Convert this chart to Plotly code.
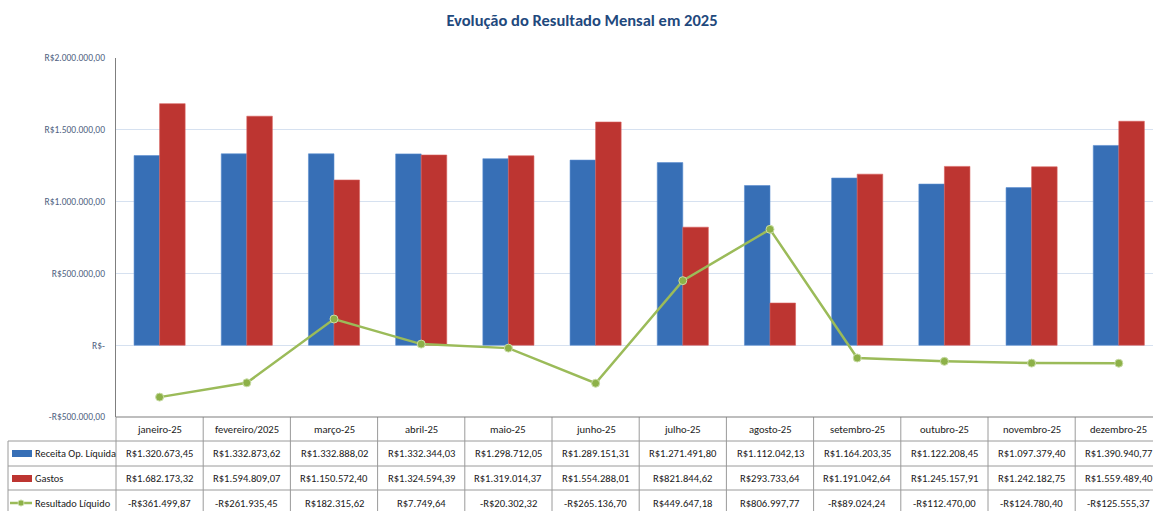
import plotly.graph_objects as go

months = ["janeiro-25", "fevereiro/2025", "março-25", "abril-25", "maio-25", "junho-25",
          "julho-25", "agosto-25", "setembro-25", "outubro-25", "novembro-25", "dezembro-25"]
receita = [1320673.45, 1332873.62, 1332888.02, 1332344.03, 1298712.05, 1289151.31,
           1271491.80, 1112042.13, 1164203.35, 1122208.45, 1097379.40, 1390940.77]
gastos = [1682173.32, 1594809.07, 1150572.40, 1324594.39, 1319014.37, 1554288.01,
          821844.62, 293733.64, 1191042.64, 1245157.91, 1242182.75, 1559489.40]
resultado = [-361499.87, -261935.45, 182315.62, 7749.64, -20302.32, -265136.70,
             449647.18, 806997.77, -89024.24, -112470.00, -124780.40, -125555.37]
series_names = ["Receita Op. Líquida", "Gastos", "Resultado Líquido"]
ytick_vals = [-500000, 0, 500000, 1000000, 1500000, 2000000]
ytick_text = ["-R$500.000,00", "R$-", "R$500.000,00", "R$1.000.000,00", "R$1.500.000,00", "R$2.000.000,00"]


def brl(v):
    s = f"{abs(v):,.2f}".replace(",", "X").replace(".", ",").replace("X", ".")
    return ("-R$" if v < 0 else "R$") + s


W, H = 1153, 511
ML, MR, MT, MB = 116, 0, 58, 94
PW = W - ML - MR
PH = H - MT - MB
CAT_W = 87.2
XMIN = -0.5
XMAX = XMIN + PW / CAT_W

FONT = "Carlito, 'Liberation Sans Narrow', Lato, sans-serif"
BLUE = "#376FB6"
RED = "#BD3531"
GREEN = "#9BBB59"
GRID = "#D6E1F0"
TBL = "#9A9A9A"
TXT = "#1a1a1a"
TSIZE = 10.6


def px_y(py):
    return (H - MB - py) / PH


def px_x(px):
    return (px - ML) / PW


def cat_x(v):
    return (v - XMIN) / (XMAX - XMIN)


x = list(range(len(months)))

fig = go.Figure()
fig.add_trace(go.Bar(x=x, y=receita, name=series_names[0], marker=dict(color=BLUE, line=dict(color="#5B8DD0", width=0.6))))
fig.add_trace(go.Bar(x=x, y=gastos, name=series_names[1], marker=dict(color=RED, line=dict(color="#D8605C", width=0.6))))
fig.add_trace(go.Scatter(x=x, y=resultado, name=series_names[2], mode="lines+markers",
                         line=dict(color=GREEN, width=2.5),
                         marker=dict(size=8, color="#8DB148", line=dict(color="#C9DCA6", width=1))))

shapes = []
annotations = []

row_top = [417, 441, 466, 490]
row_center = [429, 453.5, 478, 503]
bottom = 520

for ry in row_top[1:]:
    shapes.append(dict(type="line", xref="paper", yref="paper", x0=px_x(8), x1=1.02, y0=px_y(ry), y1=px_y(ry),
                       line=dict(color=TBL, width=1)))
for i in range(len(months)):
    xv = cat_x(i + 0.5)
    if xv <= 1:
        shapes.append(dict(type="line", xref="paper", yref="paper", x0=xv, x1=xv, y0=px_y(417), y1=px_y(bottom),
                           line=dict(color=TBL, width=1)))
shapes.append(dict(type="line", xref="paper", yref="paper", x0=0, x1=0, y0=px_y(417), y1=px_y(bottom),
                   line=dict(color=TBL, width=1)))
shapes.append(dict(type="line", xref="paper", yref="paper", x0=px_x(8), x1=px_x(8), y0=px_y(441), y1=px_y(bottom),
                   line=dict(color=TBL, width=1)))
shapes.append(dict(type="line", xref="paper", yref="paper", x0=0, x1=1, y0=0, y1=0, line=dict(color="#7F7F7F", width=1.2)))

shapes.append(dict(type="rect", xref="paper", yref="paper", x0=px_x(12), x1=px_x(32), y0=px_y(457), y1=px_y(450),
                   fillcolor=BLUE, line=dict(width=0)))
shapes.append(dict(type="rect", xref="paper", yref="paper", x0=px_x(12), x1=px_x(32), y0=px_y(482), y1=px_y(475),
                   fillcolor=RED, line=dict(width=0)))
shapes.append(dict(type="line", xref="paper", yref="paper", x0=px_x(10), x1=px_x(32), y0=px_y(503), y1=px_y(503),
                   line=dict(color=GREEN, width=2.5)))
shapes.append(dict(type="circle", xref="paper", yref="paper", x0=px_x(18), x1=px_x(24), y0=px_y(506), y1=px_y(500),
                   fillcolor="#8DB148", line=dict(color="#C9DCA6", width=1)))

for k, nm in enumerate(series_names):
    annotations.append(dict(text=nm, xref="paper", yref="paper", x=px_x(33), y=px_y(row_center[k + 1]),
                            xanchor="left", yanchor="middle", showarrow=False,
                            font=dict(family=FONT, size=10.4, color=TXT)))

for i, m in enumerate(months):
    annotations.append(dict(text=m, xref="paper", yref="paper", x=cat_x(i), y=px_y(row_center[0]),
                            xanchor="center", yanchor="middle", showarrow=False,
                            font=dict(family=FONT, size=TSIZE, color=TXT)))
    for k, arr in enumerate([receita, gastos, resultado]):
        annotations.append(dict(text=brl(arr[i]), xref="paper", yref="paper", x=cat_x(i), y=px_y(row_center[k + 1]),
                                xanchor="center", yanchor="middle", showarrow=False,
                                font=dict(family=FONT, size=TSIZE, color=TXT)))

fig.update_layout(
    width=W, height=H,
    margin=dict(l=ML, r=MR, t=MT, b=MB),
    paper_bgcolor="white", plot_bgcolor="white",
    barmode="group", bargap=0.414, bargroupgap=0,
    showlegend=False,
    title=dict(text="<b>Evolução do Resultado Mensal em 2025</b>", x=582 / W, xanchor="center", y=1 - 20 / H,
               yanchor="middle", font=dict(family=FONT, size=16.5, color="#1F497D")),
    xaxis=dict(range=[XMIN, XMAX], showticklabels=False, showgrid=False, zeroline=False, showline=False, ticks=""),
    yaxis=dict(range=[-500000, 2000000], tickvals=ytick_vals, ticktext=ytick_text,
               showgrid=True, gridcolor=GRID, gridwidth=1, zeroline=True, zerolinecolor=GRID, zerolinewidth=1,
               showline=True, linecolor="#7F7F7F", linewidth=1.2, ticks="", ticklen=0,
               ticklabelstandoff=8,
               tickfont=dict(family=FONT, size=9.5, color="#4F5F7F")),
    shapes=shapes, annotations=annotations,
    font=dict(family=FONT),
)

fig.write_html("out.html", config={"displayModeBar": False},
               post_script="document.body.style.margin='0';document.body.style.overflow='hidden';")
